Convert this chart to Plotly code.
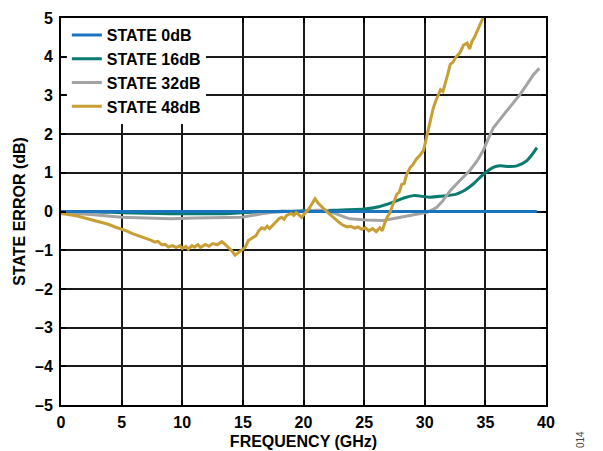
import plotly.graph_objects as go

# ---- data ----
freq_0db = [0, 39.25]
err_0db = [0, 0]

freq_16db = [0, 3, 5, 8, 11, 14, 16.5, 18.5, 20, 22.45, 25.2, 26.3, 27.4, 28.2, 29.05,
             30.4, 31.5, 32.6, 33.3, 34.0, 34.8, 35.65, 36.2, 37.0, 37.6, 38.4, 39.25]
err_16db = [0, -0.01, -0.03, -0.05, -0.06, -0.05, -0.01, 0.0, 0.02, 0.03, 0.07, 0.13, 0.24, 0.34, 0.41,
            0.37, 0.4, 0.45, 0.55, 0.71, 0.95, 1.14, 1.18, 1.16, 1.18, 1.31, 1.65]

freq_32db = [0, 2.5, 5, 7, 9.1, 11, 13.25, 14.9, 16.55, 18.2, 19.85, 21.0, 21.9, 22.8, 23.8,
             25.2, 26.6, 28.0, 29.2, 30.2, 30.6, 31.0, 31.5, 32.1, 32.9, 33.7, 34.3, 34.8, 35.2,
             35.65, 36.2, 36.75, 37.3, 37.85, 38.4, 38.95, 39.45]
err_32db = [-0.03, -0.08, -0.15, -0.17, -0.19, -0.17, -0.15, -0.15, -0.06, 0.01, 0.0, 0.03, 0.03, -0.08, -0.19,
            -0.22, -0.23, -0.15, -0.08, -0.02, 0.04, 0.11, 0.28, 0.54, 0.8, 1.05, 1.3, 1.56, 1.85,
            2.16, 2.38, 2.59, 2.8, 3.02, 3.27, 3.53, 3.7]

freq_48db = [0, 0.5, 1, 1.5, 2.25, 2.8, 3.3, 3.9, 4.45, 4.9, 5.4, 5.9, 6.4, 6.8, 7.1, 7.4, 7.75,
             8.0, 8.3, 8.6, 8.85, 9.2, 9.5, 9.8, 10.0, 10.3, 10.5, 10.8, 11.0, 11.3, 11.5, 11.9,
             12.2, 12.5, 12.9, 13.25, 13.5, 13.8, 14.1, 14.35, 14.6, 14.9, 15.2, 15.45, 15.8,
             16.1, 16.3, 16.55, 16.8, 17.0, 17.2, 17.4, 17.6, 17.8, 18.0, 18.2, 18.4, 18.6,
             18.8, 19.0, 19.2, 19.4, 19.6, 19.85, 20.1, 20.4, 20.7, 20.95, 21.2, 21.4, 21.65,
             21.9, 22.2, 22.45, 22.7, 23.0, 23.3, 23.6, 23.9, 24.2, 24.5, 24.8, 25.1, 25.4,
             25.7, 26.0, 26.3, 26.5, 26.7, 26.9, 27.1, 27.3, 27.5, 27.7, 27.9, 28.1, 28.3,
             28.5, 28.8, 29.0, 29.3, 29.6, 29.9, 30.1, 30.3, 30.5, 30.7, 30.9, 31.1, 31.3,
             31.5, 31.7, 31.9, 32.1, 32.3, 32.6, 32.9, 33.2, 33.5, 33.7, 33.9, 34.1, 34.3,
             34.55, 34.8]
err_48db = [-0.05, -0.07, -0.1, -0.13, -0.19, -0.24, -0.28, -0.33, -0.4, -0.44, -0.5, -0.57, -0.62, -0.67, -0.7, -0.74, -0.79,
            -0.77, -0.86, -0.85, -0.92, -0.88, -0.93, -0.88, -0.95, -0.9, -0.97, -0.88, -0.92, -0.86, -0.93, -0.85,
            -0.9, -0.83, -0.86, -0.78, -0.84, -0.92, -1.02, -1.13, -1.08, -1.0, -0.92, -0.75, -0.68,
            -0.62, -0.5, -0.42, -0.45, -0.38, -0.44, -0.38, -0.3, -0.25, -0.18, -0.15, -0.2, -0.1,
            -0.08, -0.05, -0.1, -0.03, -0.08, -0.15, -0.05, 0.05, 0.2, 0.33, 0.22, 0.15, 0.08,
            0.0, -0.08, -0.15, -0.22, -0.3, -0.36, -0.4, -0.38, -0.43, -0.4, -0.46, -0.42, -0.5,
            -0.44, -0.52, -0.42, -0.5, -0.3, -0.15, -0.05, 0.12, 0.3, 0.45, 0.5, 0.7, 0.72,
            0.95, 1.14, 1.2, 1.35, 1.45, 1.58, 1.85, 2.1, 2.45, 2.67, 2.85, 3.0, 3.15,
            3.1, 3.3, 3.55, 3.8, 3.85, 4.0, 4.1, 4.3, 4.35, 4.2, 4.4, 4.5, 4.64,
            4.8, 5.0]

x_ticks = [0, 5, 10, 15, 20, 25, 30, 35, 40]
y_ticks = [-5, -4, -3, -2, -1, 0, 1, 2, 3, 4, 5]
y_tick_text = ["–5", "–4", "–3", "–2", "–1", "0", "1", "2", "3", "4", "5"]

C_BLUE = "#1a74bf"
C_TEAL = "#0b7a6f"
C_GRAY = "#a3a3a3"
C_GOLD = "#c89f34"

fig = go.Figure()
fig.add_trace(go.Scatter(x=freq_16db, y=err_16db, mode="lines", name="STATE 16dB",
                         line=dict(color=C_TEAL, width=3, shape="spline"), legendrank=2))
fig.add_trace(go.Scatter(x=freq_32db, y=err_32db, mode="lines", name="STATE 32dB",
                         line=dict(color=C_GRAY, width=3), legendrank=3))
fig.add_trace(go.Scatter(x=freq_0db, y=err_0db, mode="lines", name="STATE 0dB",
                         line=dict(color=C_BLUE, width=3), legendrank=1))
fig.add_trace(go.Scatter(x=freq_48db, y=err_48db, mode="lines", name="STATE 48dB",
                         line=dict(color=C_GOLD, width=3), legendrank=4))

FONT = "Liberation Sans, Arial, sans-serif"
F16 = dict(family=FONT, size=16, color="black", weight="bold")

fig.update_layout(
    width=603, height=451,
    margin=dict(l=61, r=57, t=18, b=46),
    paper_bgcolor="white", plot_bgcolor="white",
    font=F16,
    showlegend=True,
    legend=dict(x=0.012, y=1.0, xanchor="left", yanchor="top",
                bgcolor="white", borderwidth=0, font=F16,
                tracegroupgap=0, itemwidth=30),
    xaxis=dict(range=[0, 40], tickvals=x_ticks, ticktext=[str(v) for v in x_ticks],
               showgrid=True, gridcolor="#1a1a1a", gridwidth=1.5,
               showline=True, linecolor="black", linewidth=2, mirror="ticks",
               ticks="inside", ticklen=5, tickcolor="black", tickwidth=1.5,
               zeroline=False, ticklabelstandoff=2, automargin=False,
               title=dict(text="FREQUENCY (GHz)", standoff=6, font=F16),
               tickfont=F16),
    yaxis=dict(range=[-5, 5], tickvals=y_ticks, ticktext=y_tick_text,
               showgrid=True, gridcolor="#1a1a1a", gridwidth=1.5,
               showline=True, linecolor="black", linewidth=2, mirror="ticks",
               ticks="inside", ticklen=5, tickcolor="black", tickwidth=1.5,
               zeroline=False, ticklabelstandoff=3, automargin=False,
               title=dict(text="STATE ERROR (dB)", standoff=5, font=F16),
               tickfont=F16),
)

fig.add_annotation(text="014", xref="paper", yref="paper", x=1.07, y=-0.088,
                   showarrow=False, textangle=-90,
                   font=dict(family=FONT, size=10, color="#444444", weight="normal"),
                   xanchor="center", yanchor="middle")

fig.write_html("out.html")
